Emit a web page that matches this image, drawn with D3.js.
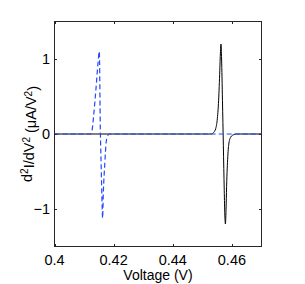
<!DOCTYPE html>
<meta charset="utf-8">
<style>
    body { margin: 0; background: #fff; }
    svg { display: block; }
    text { font-family: "Liberation Sans", Arial, sans-serif; fill: #000; }
</style>
<body>
<script src="https://cdn.jsdelivr.net/npm/d3@7"></script>
<script>
// black solid curve (voltage, d2I/dV2)
var blackV = [0.400, 0.4500, 0.4532, 0.4538, 0.4545, 0.4550, 0.4555, 0.4559, 0.4561, 0.4563, 0.4565, 0.4568, 0.4571, 0.4574, 0.4576, 0.4578, 0.4580, 0.4582, 0.4586, 0.4590, 0.4596, 0.4605, 0.4615, 0.4700];
var blackY = [0, 0, 0, 0.02, 0.07, 0.18, 0.45, 0.85, 1.08, 1.2, 1.0, 0.45, -0.15, -0.75, -1.08, -1.2, -1.02, -0.7, -0.3, -0.12, -0.04, -0.01, 0, 0];

// blue dashed curve
var blueV = [0.400, 0.4110, 0.4121, 0.4127, 0.4132, 0.4140, 0.4147, 0.41515, 0.4155, 0.4158, 0.4161, 0.41627, 0.4165, 0.4170, 0.4175, 0.4180, 0.4186, 0.4700];
var blueY = [0, 0, 0, 0.05, 0.23, 0.59, 0.94, 1.1, 0.06, -0.45, -0.95, -1.12, -0.8, -0.4, -0.1, -0.02, 0, 0];

var xTicks = [0.40, 0.42, 0.44, 0.46];
var xTickLabels = ["0.4", "0.42", "0.44", "0.46"];
var yTicks = [-1, 0, 1];
var yTickLabels = ["\u22121", "0", "1"];

var width = 305, height = 284;
var box = {left: 54.5, right: 261.5, top: 21.5, bottom: 246.5};

var svg = d3.select("body").append("svg")
    .attr("width", width)
    .attr("height", height);

var x = d3.scaleLinear().domain([0.40, 0.47]).range([box.left, box.right]);
var y = d3.scaleLinear().domain([-1.5, 1.5]).range([box.bottom, box.top]);

var tickLen = 2.5;
var fontSize = 14.5;

// ticks on all four sides, pointing inward
var ticks = svg.append("g").attr("stroke", "#262626").attr("stroke-width", 1);
xTicks.forEach(function(t) {
    var px = Math.round(x(t)) + 0.5;
    ticks.append("line").attr("x1", px).attr("x2", px).attr("y1", box.bottom).attr("y2", box.bottom - tickLen);
    ticks.append("line").attr("x1", px).attr("x2", px).attr("y1", box.top).attr("y2", box.top + tickLen);
});
yTicks.forEach(function(t) {
    var py = Math.round(y(t)) + 0.5;
    ticks.append("line").attr("x1", box.left).attr("x2", box.left + tickLen).attr("y1", py).attr("y2", py);
    ticks.append("line").attr("x1", box.right).attr("x2", box.right - tickLen).attr("y1", py).attr("y2", py);
});

// curves
var line = d3.line()
    .x(function(d) { return x(d[0]); })
    .y(function(d) { return y(d[1]); })
    .curve(d3.curveMonotoneX);

var blackData = blackV.map(function(v, i) { return [v, blackY[i]]; });
var blueData = blueV.map(function(v, i) { return [v, blueY[i]]; });

svg.append("path")
    .datum(blackData)
    .attr("d", line)
    .attr("fill", "none")
    .attr("stroke", "#000")
    .attr("stroke-width", 1);

svg.append("path")
    .datum(blueData)
    .attr("d", line)
    .attr("fill", "none")
    .attr("stroke", "#2447ff")
    .attr("stroke-width", 1.2)
    .attr("stroke-dasharray", "5,3");

// axes box
svg.append("rect")
    .attr("x", box.left)
    .attr("y", box.top)
    .attr("width", box.right - box.left)
    .attr("height", box.bottom - box.top)
    .attr("fill", "none")
    .attr("stroke", "#262626")
    .attr("stroke-width", 1);

// tick labels
svg.selectAll("text.xt")
    .data(xTicks)
    .enter().append("text")
    .attr("class", "xt")
    .attr("x", function(d) { return x(d); })
    .attr("y", 265)
    .attr("text-anchor", "middle")
    .style("font-size", fontSize + "px")
    .text(function(d, i) { return xTickLabels[i]; });

svg.selectAll("text.yt")
    .data(yTicks)
    .enter().append("text")
    .attr("class", "yt")
    .attr("x", 50)
    .attr("y", function(d) { return y(d) + 5; })
    .attr("text-anchor", "end")
    .style("font-size", fontSize + "px")
    .text(function(d, i) { return yTickLabels[i]; });

// axis labels
svg.append("text")
    .attr("x", (box.left + box.right) / 2)
    .attr("y", 280)
    .attr("text-anchor", "middle")
    .style("font-size", "14px")
    .text("Voltage (V)");

var ylab = svg.append("text")
    .attr("transform", "translate(32," + y(0) + ") rotate(-90)")
    .attr("text-anchor", "middle")
    .style("font-size", fontSize + "px");
ylab.append("tspan").text("d");
ylab.append("tspan").attr("dy", "-0.45em").style("font-size", "10px").text("2");
ylab.append("tspan").attr("dy", "0.45em").text("I/dV");
ylab.append("tspan").attr("dy", "-0.45em").style("font-size", "10px").text("2");
ylab.append("tspan").attr("dy", "0.45em").text(" (\u03bcA/V");
ylab.append("tspan").attr("dy", "-0.45em").style("font-size", "10px").text("2");
ylab.append("tspan").attr("dy", "0.45em").text(")");
</script>
</body>
